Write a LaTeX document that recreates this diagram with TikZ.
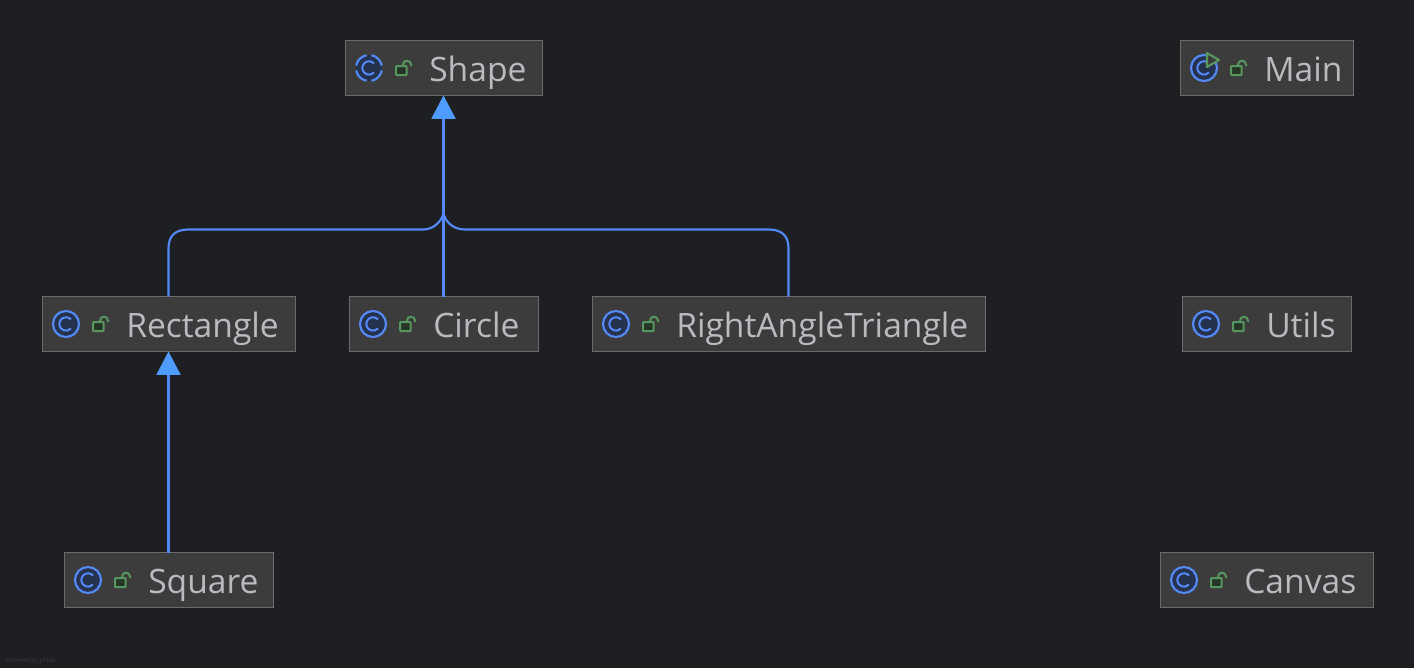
\documentclass[tikz,border=0pt]{standalone}
\usepackage{fontspec}
\setmainfont{Open Sans}
\usetikzlibrary{arrows.meta}
\definecolor{canvasbg}{HTML}{1E1F22}
\definecolor{boxfill}{HTML}{3C3C3C}
\definecolor{boxline}{HTML}{6B6B6B}
\definecolor{edgeblue}{HTML}{548AF7}
\definecolor{tipblue}{HTML}{4F9CFF}
\definecolor{labelgrey}{HTML}{B8BBC0}
\definecolor{iconfill}{HTML}{25324D}
\definecolor{lockgreen}{HTML}{57965C}
\definecolor{lockfill}{HTML}{253627}
\definecolor{markgrey}{HTML}{3A3B3E}
\tikzset{
  classbox/.style={draw=boxline,fill=boxfill,line width=1pt,minimum height=41.25pt,inner sep=0pt,outer sep=0pt},
  classname/.style={anchor=base west,inner sep=0pt,text=labelgrey,font=\fontsize{25.2}{30}\selectfont},
  edge/.style={draw=edgeblue,line width=1.6pt},
  tip/.style={-{Triangle[length=17.5pt,width=18pt,fill=tipblue,color=tipblue]}},
  every pic/.style={yscale=-1},
  lockmark/.pic={
    \draw[lockgreen,fill=lockfill,line width=1.5pt,rounded corners=0.5pt] (-7,-2) rectangle (3.5,7);
    \draw[lockgreen,line width=1.5pt] (0,-2) -- (0,-3.5) .. controls (0,-8.5) and (8,-8.5) .. (8,-3.5) -- (8,-2);
  },
  classmark/.pic={
    \draw[edgeblue,fill=iconfill,line width=1.6pt] (0,0) circle (13);
    \draw[edgeblue,line width=1.5pt] (5,-4.5) arc (-42:-318:6.7);
  },
  abstractmark/.pic={
    \fill[iconfill] (0,0) circle (13);
    \foreach \a in {0,90,180,270}
      \draw[edgeblue,line width=1.6pt] (\a+11:13) arc (\a+11:\a+79:13);
    \draw[edgeblue,line width=1.5pt] (5,-4.5) arc (-42:-318:6.7);
  },
  runmark/.pic={
    \draw[edgeblue,fill=iconfill,line width=1.6pt] (0,0) circle (13);
    \draw[edgeblue,line width=1.5pt] (5,-4.5) arc (-42:-318:6.7);
    \draw[lockgreen,fill=boxfill,line width=1.6pt,line join=round] (3,-15) -- (15,-8) -- (3,-1) -- cycle;
  }
}
\begin{document}
\begin{tikzpicture}[x=0.75pt,y=0.75pt,yscale=-1,xscale=1]
\fill[canvasbg] (0,0) rectangle (1414,668);
\useasboundingbox (0,0) rectangle (1414,668);

% class boxes
\node[classbox,minimum width=147.75pt] (shape) at (444,68) {};
\node[classbox,minimum width=129.75pt] (main) at (1267,68) {};
\node[classbox,minimum width=189.75pt] (rectangle) at (169,324) {};
\node[classbox,minimum width=141.75pt] (circle) at (444,324) {};
\node[classbox,minimum width=294.75pt] (triangle) at (789,324) {};
\node[classbox,minimum width=126.75pt] (utils) at (1267,324) {};
\node[classbox,minimum width=156.75pt] (square) at (169,580) {};
\node[classbox,minimum width=159.75pt] (canvas) at (1267,580) {};

% icons
\pic at (369,68) {abstractmark};
\pic at (403,68) {lockmark};
\pic at (1204,68) {runmark};
\pic at (1238,68) {lockmark};
\pic at (66,324) {classmark};
\pic at (100,324) {lockmark};
\pic at (373,324) {classmark};
\pic at (407,324) {lockmark};
\pic at (616,324) {classmark};
\pic at (650,324) {lockmark};
\pic at (1206,324) {classmark};
\pic at (1240,324) {lockmark};
\pic at (88,580) {classmark};
\pic at (122,580) {lockmark};
\pic at (1184,580) {classmark};
\pic at (1218,580) {lockmark};

% names
\node[classname] (shapename) at (429,81) {Shape};
\node[classname] (mainname) at (1264,81) {Main};
\node[classname] (rectanglename) at (126,337) {Rectangle};
\node[classname] (circlename) at (433,337) {Circle};
\node[classname] (trianglename) at (676,337) {RightAngleTriangle};
\node[classname] (utilsname) at (1266,337) {Utils};
\node[classname] (squarename) at (148,593) {Square};
\node[classname] (canvasname) at (1244,593) {Canvas};

% inheritance
\coordinate (joint) at (443.5,212);
\coordinate (trunk) at (443.5,110);
\draw[edge] ([xshift=-0.375pt]rectangle.north) -- ++(0,-48) .. controls ++(0,-13) and ++(-13,0) .. ++(20,-19) -- ++(235,0) .. controls ++(12,0) and ++(0,6) .. (joint) -- (trunk);
\draw[edge] ([xshift=-0.375pt]triangle.north) -- ++(0,-48) .. controls ++(0,-13) and ++(13,0) .. ++(-20,-19) -- ++(-304,0) .. controls ++(-14,0) and ++(0,6) .. (joint) -- (trunk);
\draw[edge,tip] ([xshift=-0.375pt]circle.north) -- ([xshift=-0.375pt]shape.south);
\draw[edge,tip] ([xshift=-0.375pt]square.north) -- ([xshift=-0.375pt]rectangle.south);

\node[anchor=base west,inner sep=0pt,text=markgrey,font=\fontsize{4.5}{5}\selectfont] (poweredby) at (5,662) {Powered by yFiles};
\end{tikzpicture}
\end{document}
